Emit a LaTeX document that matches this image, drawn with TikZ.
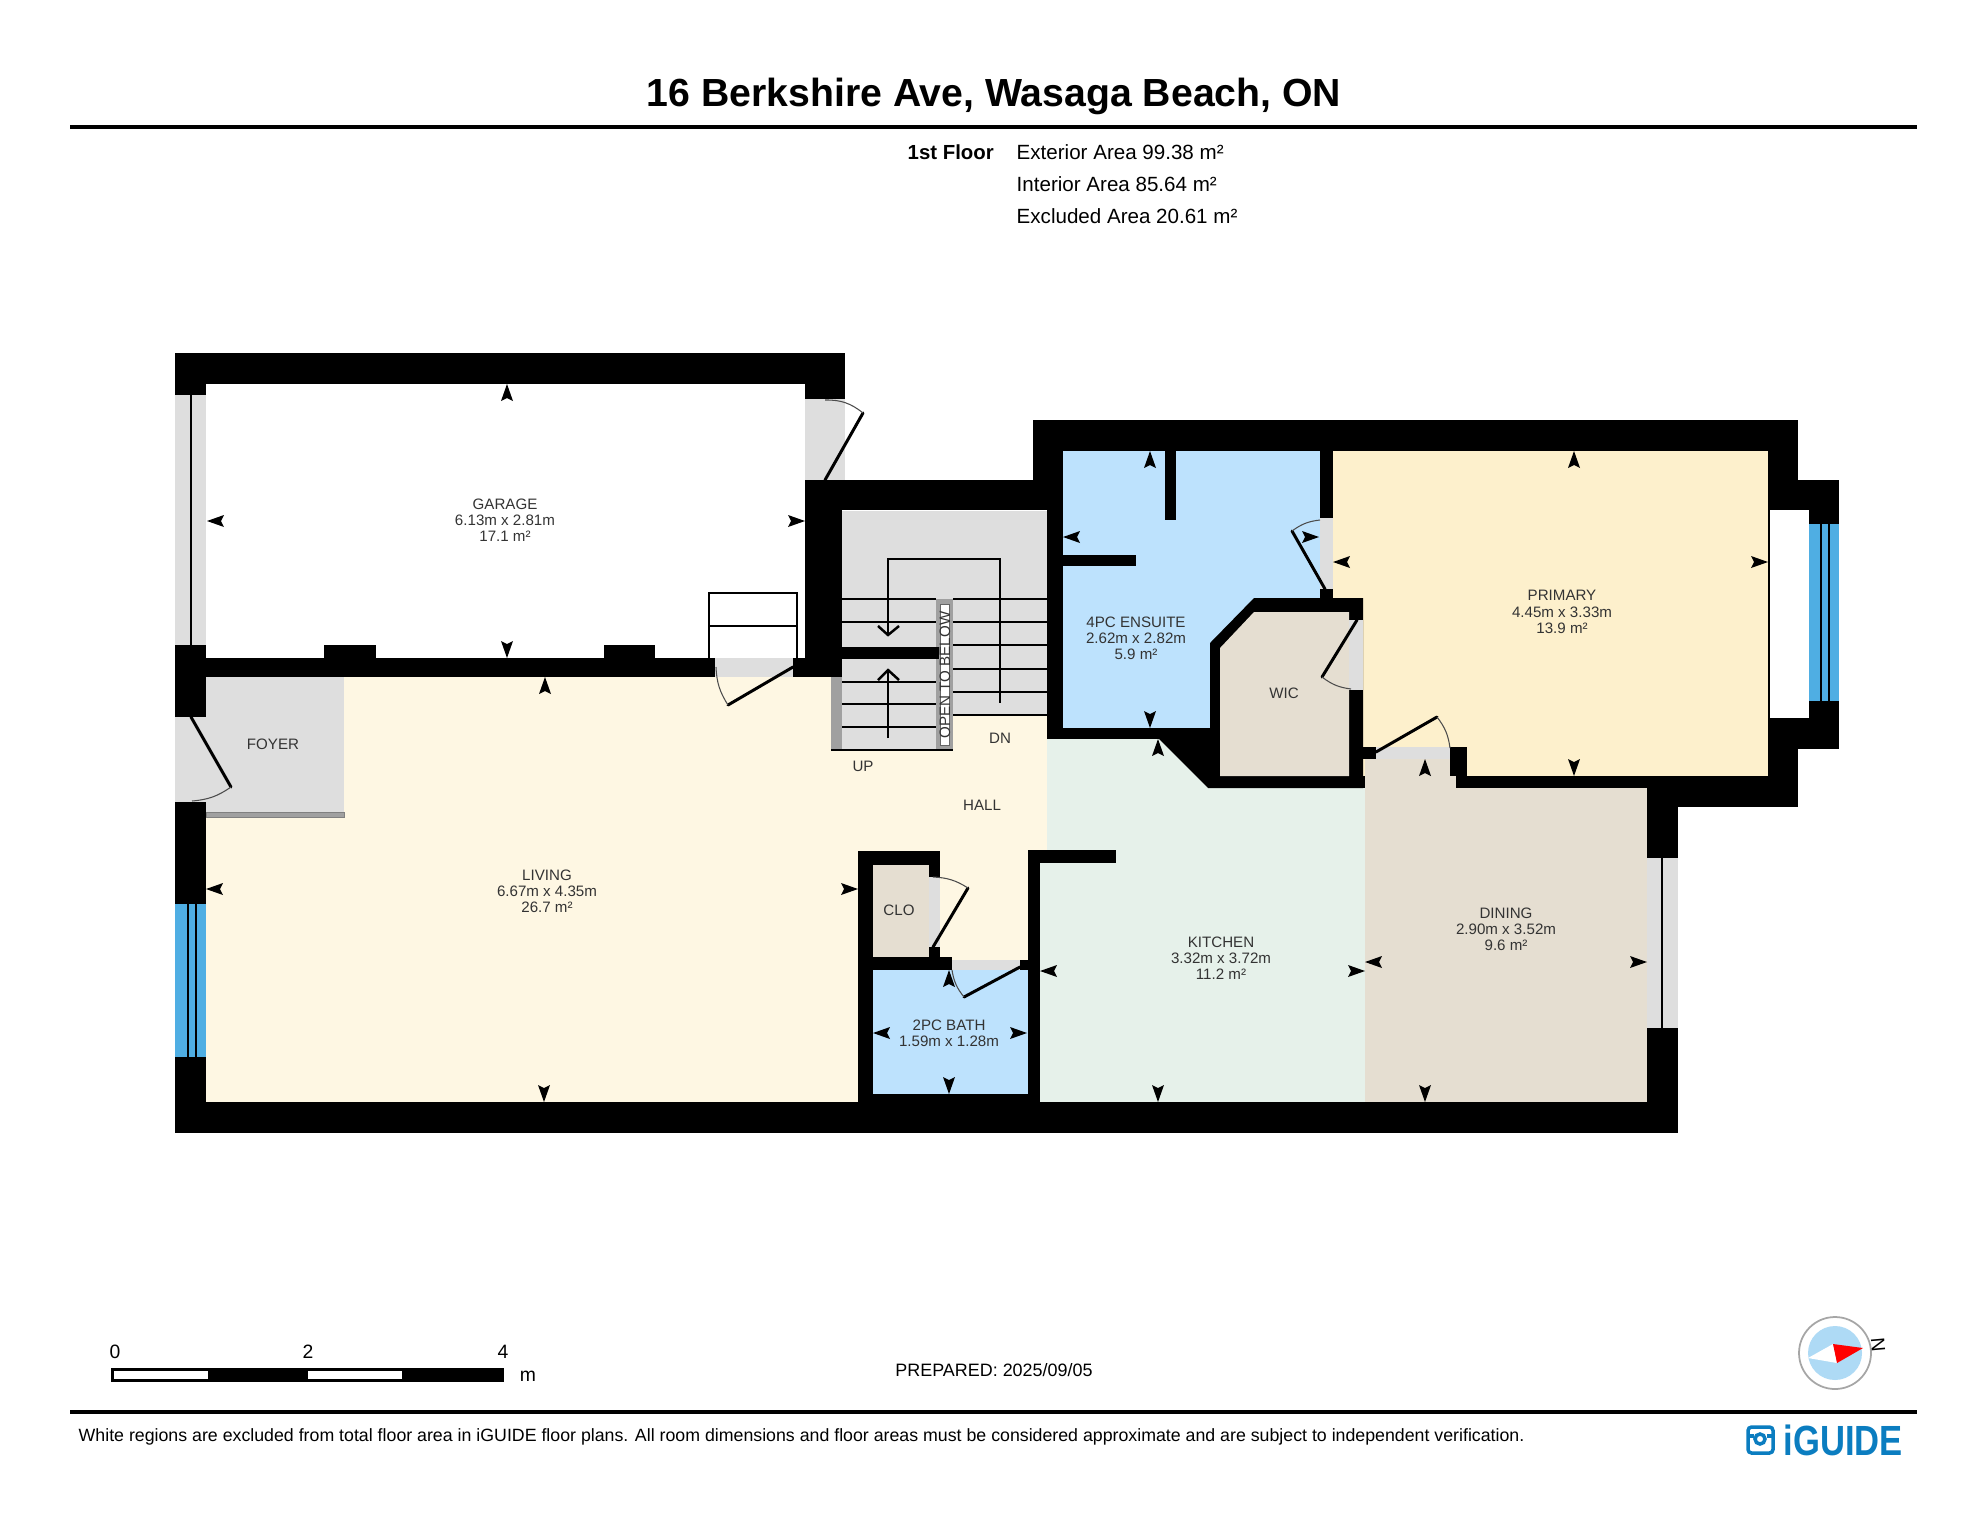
\documentclass[tikz,border=0pt]{standalone}
\usepackage{fontspec}
\setmainfont{Liberation Sans}
\definecolor{livingfill}{HTML}{FEF7E3}
\definecolor{kitchenfill}{HTML}{E6F1EA}
\definecolor{dryfill}{HTML}{E5DED1}
\definecolor{primaryfill}{HTML}{FDF0CC}
\definecolor{wetfill}{HTML}{BDE2FD}
\definecolor{openfill}{HTML}{DEDEDE}
\definecolor{glassfill}{HTML}{4FAEE3}
\definecolor{railfill}{HTML}{A0A0A0}
\definecolor{logoblue}{HTML}{0B7DC0}
\definecolor{discblue}{HTML}{AEDAF5}
\begin{document}
\begin{tikzpicture}[x=0.01cm,y=-0.01cm,
    wall/.style={fill=black},
    doorleaf/.style={line width=0.85pt,line cap=round},
    doorswing/.style={line width=0.3pt,draw=black!70},
    tread/.style={line width=0.55pt},
    room label/.style={inner sep=0pt,align=center,text=black!80,font=\fontsize{4.3}{4.6}\selectfont},
    sheet label/.style={inner sep=0pt,anchor=west,font=\fontsize{5.85}{6}\selectfont},
    dimtip/.pic={\fill (0,0) -- (6,17) -- (0,14) -- (-6,17) -- cycle;}
  ]
  \useasboundingbox (0,0) rectangle (1988,1536);

  % sheet header
  \node[inner sep=0pt,font=\bfseries\fontsize{11.15}{12}\selectfont] (title) at (994,96) {16 Berkshire Ave, Wasaga Beach, ON};
  \fill (70,125) rectangle (1917,129);
  \node[sheet label,font=\bfseries\fontsize{5.8}{6}\selectfont] (floorname) at (907,152) {1st Floor};
  \node[sheet label] (exterior) at (1016,152) {Exterior Area 99.38 m²};
  \node[sheet label] (interior) at (1016,184) {Interior Area 85.64 m²};
  \node[sheet label] (excluded) at (1016,216) {Excluded Area 20.61 m²};

  % room colours
  \fill[livingfill] (206,677) rectangle (1047,1102);
  \fill[openfill] (206,677) rectangle (344,812);
  \draw[black!50,fill=railfill,line width=0.2pt] (206,812) rectangle (344,817);
  \fill[kitchenfill] (1047,739) rectangle (1365,850);
  \fill[kitchenfill] (1040,850) rectangle (1365,1102);
  \fill[primaryfill] (1333,451) rectangle (1768,776);
  \fill[dryfill] (1365,788) rectangle (1647,1102);
  \fill[dryfill] (1365,759) rectangle (1456,788);
  \fill[wetfill] (1063,451) rectangle (1320,728);
  \fill[wetfill] (873,970) rectangle (1028,1094);
  \fill[dryfill] (873,865) rectangle (929,957);

  % openings
  \fill[openfill] (175,395) rectangle (206,645);
  \fill[openfill] (175,717) rectangle (206,802);
  \fill[openfill] (805,399) rectangle (845,480);
  \fill[openfill] (715,658) rectangle (793,677);
  \fill[openfill] (1320,518) rectangle (1333,589);
  \fill[openfill] (1376,747) rectangle (1450,759);
  \fill[openfill] (929,877) rectangle (940,947);
  \fill[openfill] (952,960) rectangle (1020,970);
  \fill[openfill] (1647,858) rectangle (1678,1028);
  \fill[glassfill] (175,904) rectangle (206,1057);
  \fill[glassfill] (1809,524) rectangle (1839,701);

  % stairs
  \fill[openfill] (842,511) rectangle (1047,715);
  \fill[openfill] (842,599) rectangle (936,750);
  \fill[railfill] (831,677) rectangle (842,750);
  \fill[railfill] (936,599) rectangle (953,750);
  \draw[black!60,fill=white,line width=0.2pt] (940,604) rectangle (949,745);
  \draw[tread] (842,599) -- (936,599);
  \draw[tread] (842,622) -- (936,622);
  \draw[tread] (842,682) -- (936,682);
  \draw[tread] (842,704) -- (936,704);
  \draw[tread] (842,727) -- (936,727);
  \draw[tread] (831,750) -- (953,750);
  \draw[tread] (953,599) -- (1047,599);
  \draw[tread] (953,622) -- (1047,622);
  \draw[tread] (953,645) -- (1047,645);
  \draw[tread] (953,669) -- (1047,669);
  \draw[tread] (953,692) -- (1047,692);
  \draw[tread] (953,715) -- (1047,715);
  \draw[tread] (888,635) -- (888,559) -- (1000,559) -- (1000,703);
  \draw[tread] (888,738) -- (888,670);
  \draw[line width=0.7pt] (878,626) -- (888,635) -- (899,626);
  \draw[line width=0.7pt] (878,680) -- (888,670) -- (899,680);

  % walls
  \fill[wall] (175,353) rectangle (845,384);
  \fill[wall] (175,353) rectangle (206,395);
  \fill[wall] (805,353) rectangle (845,399);
  \fill[wall] (175,645) rectangle (206,717);
  \fill[wall] (175,658) rectangle (715,677);
  \fill[wall] (324,645) rectangle (376,658);
  \fill[wall] (604,645) rectangle (655,658);
  \fill[wall] (793,658) rectangle (842,677);
  \fill[wall] (805,480) rectangle (842,677);
  \fill[wall] (805,480) rectangle (1063,510);
  \fill[wall] (842,647) rectangle (939,659);
  \fill[wall] (1033,420) rectangle (1798,451);
  \fill[wall] (1033,420) rectangle (1063,510);
  \fill[wall] (1047,510) rectangle (1063,739);
  \fill[wall] (1047,728) rectangle (1210,739);
  \fill[wall] (1165,451) rectangle (1176,520);
  \fill[wall] (1063,555) rectangle (1136,566);
  \fill[wall] (1320,451) rectangle (1333,518);
  \fill[wall] (1320,589) rectangle (1333,598);
  \fill[wall] (1254,598) -- (1363,598) -- (1363,788) -- (1208,788) -- (1159,739) -- (1159,728) -- (1210,728) -- (1210,643) -- cycle;
  \fill[dryfill] (1254,612) -- (1349,612) -- (1349,776) -- (1220,776) -- (1220,648) -- cycle;
  \fill[openfill] (1349,620) rectangle (1363,690);
  \fill[wall] (1349,776) rectangle (1365,788);
  \fill[wall] (1362,747) rectangle (1376,759);
  \fill[wall] (1450,747) rectangle (1467,776);
  \fill[wall] (1456,759) rectangle (1467,788);
  \fill[wall] (1456,776) rectangle (1798,788);
  \fill[wall] (1647,776) rectangle (1798,807);
  \fill[wall] (1647,776) rectangle (1678,858);
  \fill[wall] (1768,451) rectangle (1798,807);
  \fill[wall] (1768,480) rectangle (1839,510);
  \fill[wall] (1809,480) rectangle (1839,524);
  \fill[wall] (1809,701) rectangle (1839,749);
  \fill[wall] (1768,718) rectangle (1839,749);
  \fill[white] (1770,510) rectangle (1809,718);
  \fill[wall] (175,802) rectangle (206,904);
  \fill[wall] (175,1057) rectangle (206,1133);
  \fill[wall] (175,1102) rectangle (1678,1133);
  \fill[wall] (1647,1028) rectangle (1678,1133);
  \fill[wall] (858,851) rectangle (940,865);
  \fill[wall] (858,851) rectangle (873,1102);
  \fill[wall] (929,851) rectangle (940,877);
  \fill[wall] (929,947) rectangle (940,957);
  \fill[wall] (858,957) rectangle (952,970);
  \fill[wall] (858,1094) rectangle (1040,1102);
  \fill[wall] (1020,960) rectangle (1040,970);
  \fill[wall] (1028,850) rectangle (1040,1102);
  \fill[wall] (1028,850) rectangle (1116,863);

  % window and sliding door lines
  \draw[line width=0.55pt] (191,395) -- (191,645);
  \draw[line width=0.4pt] (188,904) -- (188,1057);
  \draw[line width=0.4pt] (196,904) -- (196,1057);
  \draw[line width=0.4pt] (1821,524) -- (1821,701);
  \draw[line width=0.4pt] (1829,524) -- (1829,701);
  \draw[line width=0.55pt] (1662,858) -- (1662,1028);
  \draw[line width=0.35pt] (1769,510) -- (1769,718);

  % garage steps
  \draw[tread,fill=white] (709,658) -- (709,593) -- (797,593) -- (797,658);
  \draw[tread] (709,626) -- (797,626);

  % doors
  \draw[doorleaf] (825,480) -- (863,413);
  \draw[doorswing] (825,400) to[bend left=20] (863,413);
  \draw[doorleaf] (793,667) -- (728,705);
  \draw[doorswing] (716,667) to[bend right=15] (728,705);
  \draw[doorleaf] (191,717) -- (231,787);
  \draw[doorswing] (231,787) to[bend left=15] (192,801);
  \draw[doorleaf] (1325,589) -- (1292,531);
  \draw[doorswing] (1292,531) to[bend left=15] (1320,520);
  \draw[doorleaf] (1357,620) -- (1322,677);
  \draw[doorswing] (1322,677) to[bend right=15] (1351,689);
  \draw[doorleaf] (1376,752) -- (1437,717);
  \draw[doorswing] (1437,717) to[bend left=15] (1450,748);
  \draw[doorleaf] (933,947) -- (968,888);
  \draw[doorswing] (933,877) to[bend left=15] (968,888);
  \draw[doorleaf] (1020,967) -- (964,997);
  \draw[doorswing] (964,997) to[bend left=15] (952,970);

  % dimension arrows
  \pic at (507,384) {dimtip};
  \pic[rotate=180] at (507,658) {dimtip};
  \pic[rotate=90] at (207,521) {dimtip};
  \pic[rotate=270] at (805,521) {dimtip};
  \pic at (545,677) {dimtip};
  \pic[rotate=180] at (544,1102) {dimtip};
  \pic[rotate=90] at (206,889) {dimtip};
  \pic[rotate=270] at (858,889) {dimtip};
  \pic at (1150,451) {dimtip};
  \pic[rotate=180] at (1150,728) {dimtip};
  \pic[rotate=90] at (1063,537) {dimtip};
  \pic[rotate=270] at (1319,537) {dimtip};
  \pic at (1158,739) {dimtip};
  \pic[rotate=180] at (1158,1102) {dimtip};
  \pic[rotate=90] at (1040,971) {dimtip};
  \pic[rotate=270] at (1365,971) {dimtip};
  \pic at (1425,759) {dimtip};
  \pic[rotate=180] at (1425,1102) {dimtip};
  \pic[rotate=90] at (1365,962) {dimtip};
  \pic[rotate=270] at (1647,962) {dimtip};
  \pic at (1574,451) {dimtip};
  \pic[rotate=180] at (1574,776) {dimtip};
  \pic[rotate=90] at (1333,562) {dimtip};
  \pic[rotate=270] at (1768,562) {dimtip};
  \pic at (949,970) {dimtip};
  \pic[rotate=180] at (949,1094) {dimtip};
  \pic[rotate=90] at (873,1033) {dimtip};
  \pic[rotate=270] at (1027,1033) {dimtip};

  % room labels
  \node[room label] (garage) at (505,520) {GARAGE\\6.13m x 2.81m\\17.1 m²};
  \node[room label] (foyer) at (273,744) {FOYER};
  \node[room label] (living) at (547,891) {LIVING\\6.67m x 4.35m\\26.7 m²};
  \node[room label] (up) at (863,766) {UP};
  \node[room label] (dn) at (1000,738) {DN};
  \node[room label] (hall) at (982,805) {HALL};
  \node[room label] (clo) at (899,910) {CLO};
  \node[room label] (bath) at (949,1033) {2PC BATH\\1.59m x 1.28m};
  \node[room label] (ensuite) at (1136,638) {4PC ENSUITE\\2.62m x 2.82m\\5.9 m²};
  \node[room label] (wic) at (1284,693) {WIC};
  \node[room label] (primary) at (1562,612) {PRIMARY\\4.45m x 3.33m\\13.9 m²};
  \node[room label] (kitchen) at (1221,958) {KITCHEN\\3.32m x 3.72m\\11.2 m²};
  \node[room label] (dining) at (1506,929) {DINING\\2.90m x 3.52m\\9.6 m²};
  \node[room label,rotate=90] (openbelow) at (945,675) {OPEN TO BELOW};

  % scale bar
  \draw[line width=0.3pt,fill=black] (112,1369) rectangle (503,1381);
  \fill[white] (114,1371) rectangle (208,1379);
  \fill[white] (308,1371) rectangle (402,1379);
  \node[room label,text=black,font=\fontsize{5.5}{6}\selectfont] (zero) at (115,1352) {0};
  \node[room label,text=black,font=\fontsize{5.5}{6}\selectfont] (two) at (308,1352) {2};
  \node[room label,text=black,font=\fontsize{5.5}{6}\selectfont] (four) at (503,1352) {4};
  \node[room label,text=black,font=\fontsize{5.5}{6}\selectfont] (metres) at (528,1376) {m};
  \node[room label,text=black,font=\fontsize{5.1}{6}\selectfont] (prepared) at (994,1370) {PREPARED: 2025/09/05};

  % compass
  \draw[black!35,line width=0.5pt,fill=white] (1835,1353) circle (36);
  \fill[discblue] (1835,1353) circle (27);
  \fill[white] (1808,1358) -- (1833,1344) -- (1837,1363) -- cycle;
  \fill[red] (1833,1344) -- (1863,1348) -- (1837,1363) -- cycle;
  \node[inner sep=0pt,rotate=-85,font=\fontsize{5.5}{6}\selectfont] (north) at (1878,1345) {N};

  % sheet footer
  \fill (70,1410) rectangle (1917,1414);
  \node[sheet label,font=\fontsize{5.05}{6}\selectfont] (note) at (78,1437) {White regions are excluded from total floor area in iGUIDE floor plans. All room dimensions and floor areas must be considered approximate and are subject to independent verification.};
  \draw[logoblue,line width=1pt,rounded corners=1pt] (1748,1427) rectangle (1773,1453);
  \draw[logoblue,line width=1pt] (1748,1436) -- (1754,1436);
  \draw[logoblue,line width=1pt] (1767,1436) -- (1773,1436);
  \draw[logoblue,line width=1pt] (1760,1439) circle (5);
  \node[inner sep=0pt,anchor=west,text=logoblue,xscale=0.82,font=\bfseries\fontsize{12}{12}\selectfont] (logo) at (1783,1440) {iGUIDE};
\end{tikzpicture}
\end{document}
